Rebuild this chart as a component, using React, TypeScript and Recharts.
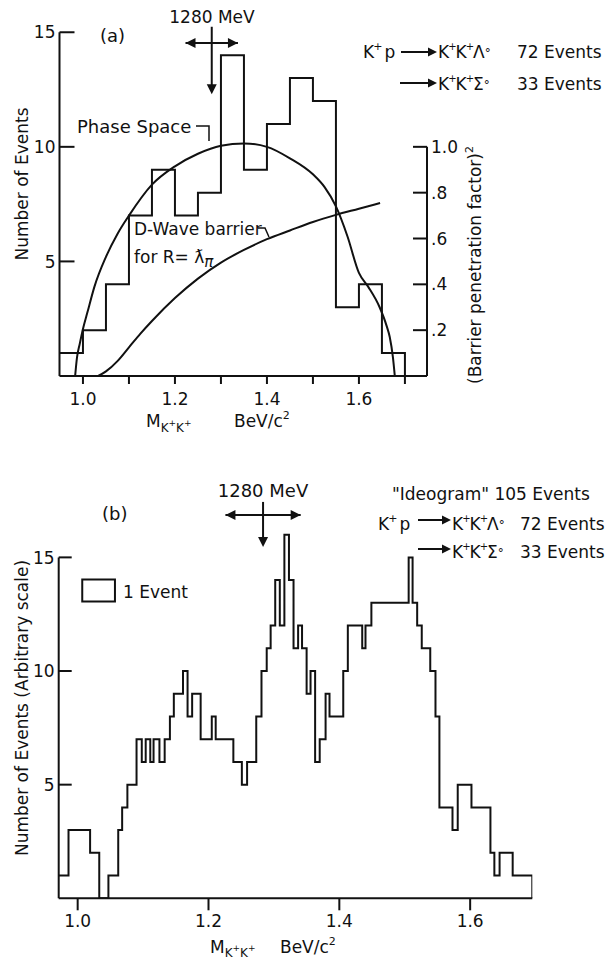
import React from 'react';
import { ComposedChart, Line, XAxis, YAxis, ReferenceLine, ReferenceDot, ReferenceArea } from 'recharts';

const FONT = '"DejaVu Sans", sans-serif';
const INK = '#111';

// ---------- Panel (a) data ----------
const binEdgesA = [0.95, 1.0, 1.05, 1.1, 1.15, 1.2, 1.25, 1.3, 1.35, 1.4, 1.45, 1.5, 1.55, 1.6, 1.65];
const countsA = [1, 2, 4, 7, 9, 7, 8, 14, 9, 11, 13, 12, 3, 4, 1];
const histEndA = 1.7;

const phaseSpaceX = [0.983, 0.987, 0.993, 1.0, 1.01, 1.025, 1.05, 1.075, 1.1, 1.15, 1.2, 1.25, 1.3, 1.35, 1.4, 1.45, 1.5, 1.525, 1.55, 1.575, 1.6, 1.62, 1.645, 1.66, 1.667, 1.674, 1.678];
const phaseSpaceY = [0, 0.8, 1.4, 2.05, 2.8, 3.9, 5.2, 6.2, 7.0, 8.35, 9.15, 9.7, 10.05, 10.15, 10.0, 9.5, 8.8, 8.25, 7.4, 6.1, 4.5, 3.9, 3.0, 2.2, 1.7, 0.8, 0];

const barrierX = [1.033, 1.05, 1.075, 1.1, 1.125, 1.15, 1.2, 1.25, 1.3, 1.35, 1.4, 1.45, 1.5, 1.55, 1.6, 1.646];
const barrierY = [0, 0.02, 0.065, 0.125, 0.185, 0.24, 0.34, 0.425, 0.495, 0.55, 0.597, 0.635, 0.672, 0.703, 0.73, 0.755];

const xDomainA = [0.949, 1.748];
const yDomainA = [0, 15.5];
const rDomainA = [0, 1.55];
const xTicksA = [1.0, 1.1, 1.2, 1.3, 1.4, 1.5, 1.6, 1.7];
const xLabelTicks = [1.0, 1.2, 1.4, 1.6];
const yTicksA = [5, 10, 15];
const yTicksRight = [0.2, 0.4, 0.6, 0.8, 1.0];
const leftAxisTop = 15;
const rightAxisTop = 1.0;

// 1280 MeV marker (a)
const massA = { x: 1.28, half: 0.057, yH: 14.53, yTop: 15.24, yTip: 12.3 };

// ---------- Panel (b) data ----------
const ideoEdges = [0.971, 0.986, 1.019, 1.033, 1.047, 1.062, 1.068, 1.076, 1.090, 1.098, 1.104, 1.111, 1.116, 1.125, 1.133, 1.141, 1.147, 1.161, 1.168, 1.175, 1.188, 1.205, 1.211, 1.238, 1.251, 1.259, 1.273, 1.281, 1.289, 1.295, 1.302, 1.309, 1.316, 1.323, 1.330, 1.337, 1.343, 1.350, 1.356, 1.363, 1.370, 1.379, 1.385, 1.406, 1.413, 1.435, 1.440, 1.449, 1.506, 1.512, 1.519, 1.526, 1.539, 1.547, 1.553, 1.573, 1.581, 1.602, 1.631, 1.637, 1.645, 1.665];
const ideoCounts = [1, 3, 2, 0, 1, 3, 4, 5, 7, 6, 7, 6, 7, 6, 7, 8, 9, 10, 8, 9, 7, 8, 7, 6, 5, 6, 8, 10, 11, 12, 14, 12, 16, 14, 11, 12, 11, 9, 10, 6, 7, 9, 8, 10, 12, 11, 12, 13, 15, 13, 12, 11, 10, 8, 4, 3, 5, 4, 2, 1, 2, 1];
const ideoEnd = 1.695;

const xDomainB = [0.971, 1.695];
const yDomainB = [0, 18];
const xTicksB = [1.0, 1.2, 1.4, 1.6];
const yTicksB = [5, 10, 15];
const massB = { x: 1.2834, half: 0.0575, yH: 16.86, yTop: 17.44, yTip: 15.46 };
const legendBox = { x1: 1.007, x2: 1.057, y1: 13.06, y2: 14.03 };

// ---------- helpers ----------
function stepData(edges: number[], counts: number[], end: number) {
  const pts = edges.map((x, i) => ({ x, y: counts[i] }));
  pts.push({ x: end, y: 0 });
  return pts;
}
function curveData(xs: number[], ys: number[]) {
  return xs.map((x, i) => ({ x, y: ys[i] }));
}

const histA = stepData(binEdgesA, countsA, histEndA);
const phaseA = curveData(phaseSpaceX, phaseSpaceY);
const barrA = curveData(barrierX, barrierY);
const histB = stepData(ideoEdges, ideoCounts, ideoEnd);

const txt = { fontFamily: FONT, fill: INK } as const;

const leftTick = (len: number) => (props: any) => {
  const { x, y, payload } = props;
  return (
    <g>
      <line x1={x} y1={y} x2={x + len} y2={y} stroke={INK} strokeWidth={2} />
      <text x={x - 4} y={y} dy="0.36em" textAnchor="end" fontSize={17} {...txt}>{payload.value}</text>
    </g>
  );
};
const rightTick = (len: number) => (props: any) => {
  const { x, y, payload } = props;
  const v = payload.value;
  const label = v >= 0.999 ? '1.0' : '.' + Math.round(v * 10);
  return (
    <g>
      <line x1={x - len} y1={y} x2={x} y2={y} stroke={INK} strokeWidth={2} />
      <text x={x + 4} y={y} dy="0.36em" textAnchor="start" fontSize={17} {...txt}>{label}</text>
    </g>
  );
};
const bottomTick = (len: number, labels: number[]) => (props: any) => {
  const { x, y, payload } = props;
  const v = payload.value;
  const show = labels.some((l) => Math.abs(l - v) < 1e-6);
  return (
    <g>
      <line x1={x} y1={y} x2={x} y2={y + len} stroke={INK} strokeWidth={2} />
      {show && (
        <text x={x} y={y + 29} textAnchor="middle" fontSize={17} {...txt}>{v.toFixed(1)}</text>
      )}
    </g>
  );
};
const head = (dir: 'down' | 'left' | 'right') => (p: any) => {
  const { cx, cy } = p;
  const L = 10, W = 5;
  let pts = '';
  if (dir === 'down') pts = `${cx},${cy} ${cx - W},${cy - L} ${cx + W},${cy - L}`;
  if (dir === 'left') pts = `${cx},${cy} ${cx + L},${cy - W} ${cx + L},${cy + W}`;
  if (dir === 'right') pts = `${cx},${cy} ${cx - L},${cy - W} ${cx - L},${cy + W}`;
  return <polygon points={pts} fill={INK} />;
};

function MassArrow({ m, yAxisId }: { m: typeof massA; yAxisId: string }) {
  return (
    <>
      <ReferenceLine yAxisId={yAxisId} ifOverflow="visible" stroke={INK} strokeWidth={2}
        segment={[{ x: m.x - m.half, y: m.yH }, { x: m.x + m.half, y: m.yH }]} />
      <ReferenceLine yAxisId={yAxisId} ifOverflow="visible" stroke={INK} strokeWidth={2}
        segment={[{ x: m.x, y: m.yTop }, { x: m.x, y: m.yTip + 0.3 }]} />
      <ReferenceDot yAxisId={yAxisId} ifOverflow="visible" x={m.x - m.half} y={m.yH} r={1} shape={head('left')} />
      <ReferenceDot yAxisId={yAxisId} ifOverflow="visible" x={m.x + m.half} y={m.yH} r={1} shape={head('right')} />
      <ReferenceDot yAxisId={yAxisId} ifOverflow="visible" x={m.x} y={m.yTip} r={1} shape={head('down')} />
    </>
  );
}

// text arrow (annotation)
function TextArrow({ x1, x2, y }: { x1: number; x2: number; y: number }) {
  return (
    <g>
      <line x1={x1} y1={y} x2={x2 - 6} y2={y} stroke={INK} strokeWidth={2} />
      <polygon points={`${x2},${y} ${x2 - 9},${y - 4.5} ${x2 - 9},${y + 4.5}`} fill={INK} />
    </g>
  );
}
function KKX({ x, y, last, size = 17 }: { x: number; y: number; last: string; size?: number }) {
  return (
    <text x={x} y={y} fontSize={size} {...txt}>
      K<tspan dy={-8} dx={-1} fontSize={10}>+</tspan>
      <tspan dy={8} dx={-1}>K</tspan><tspan dy={-8} dx={-1} fontSize={10}>+</tspan>
      <tspan dy={8} dx={-1}>{last}</tspan><tspan dy={-1} fontSize={12}>°</tspan>
    </text>
  );
}
function KP({ x, y, size = 17 }: { x: number; y: number; size?: number }) {
  return (
    <text x={x} y={y} fontSize={size} {...txt}>
      K<tspan dy={-8} dx={-1} fontSize={11}>+</tspan><tspan dy={8} dx={2}>p</tspan>
    </text>
  );
}
function MassLabel({ x, y, bx, sub }: { x: number; y: number; bx: number; sub: number }) {
  return (
    <g>
      <text x={x} y={y} fontSize={17} {...txt}>
        M<tspan dy={sub} fontSize={12}>K</tspan><tspan dy={-6} fontSize={9}>+</tspan>
        <tspan dy={6} fontSize={12}>K</tspan><tspan dy={-6} fontSize={9}>+</tspan>
      </text>
      <text x={bx} y={y} fontSize={17} {...txt}>
        BeV/c<tspan dy={-8} fontSize={11}>2</tspan>
      </text>
    </g>
  );
}

export default function App() {
  return (
    <div style={{ position: 'absolute', left: 0, top: 0, width: 613, height: 962, background: '#fff' }}>
      {/* Panel (a) */}
      <div style={{ position: 'absolute', left: 0, top: 0 }}>
        <ComposedChart width={613} height={430} margin={{ top: 20.8, right: 146, bottom: 24, left: 19.5 }}>
          <XAxis type="number" dataKey="x" domain={xDomainA} ticks={xTicksA} interval={0}
            allowDataOverflow tickSize={0} tickMargin={0} height={30}
            axisLine={{ stroke: INK, strokeWidth: 2 }} tickLine={false} tick={bottomTick(8, xLabelTicks)} />
          <YAxis yAxisId="left" type="number" domain={yDomainA} ticks={yTicksA} interval={0}
            allowDataOverflow width={40} tickSize={0} tickMargin={0}
            axisLine={false} tickLine={false} tick={leftTick(15)} />
          <YAxis yAxisId="right" orientation="right" type="number" domain={rDomainA} ticks={yTicksRight}
            interval={0} allowDataOverflow width={40} tickSize={0} tickMargin={0}
            axisLine={false} tickLine={false} tick={rightTick(14)} />
          <ReferenceLine yAxisId="left" ifOverflow="visible" stroke={INK} strokeWidth={2}
            segment={[{ x: xDomainA[0], y: 0 }, { x: xDomainA[0], y: leftAxisTop }]} />
          <ReferenceLine yAxisId="right" ifOverflow="visible" stroke={INK} strokeWidth={2}
            segment={[{ x: xDomainA[1], y: 0 }, { x: xDomainA[1], y: rightAxisTop }]} />
          <Line yAxisId="left" data={histA} dataKey="y" type="stepAfter" stroke={INK} strokeWidth={2}
            dot={false} isAnimationActive={false} />
          <Line yAxisId="left" data={phaseA} dataKey="y" type="monotone" stroke={INK} strokeWidth={2}
            dot={false} isAnimationActive={false} />
          <Line yAxisId="right" data={barrA} dataKey="y" type="monotone" stroke={INK} strokeWidth={2}
            dot={false} isAnimationActive={false} />
          {MassArrow({ m: massA, yAxisId: 'left' })}
        </ComposedChart>
      </div>

      {/* Panel (b) */}
      <div style={{ position: 'absolute', left: 0, top: 460 }}>
        <ComposedChart width={613} height={502} margin={{ top: 29.2, right: 80.7, bottom: 33.7, left: 18.7 }}>
          <XAxis type="number" dataKey="x" domain={xDomainB} ticks={xTicksB} interval={0}
            allowDataOverflow tickSize={0} tickMargin={0} height={30}
            axisLine={{ stroke: INK, strokeWidth: 2 }} tickLine={false} tick={bottomTick(12, xTicksB)} />
          <YAxis yAxisId="left" type="number" domain={yDomainB} ticks={yTicksB} interval={0}
            allowDataOverflow width={40} tickSize={0} tickMargin={0}
            axisLine={false} tickLine={false} tick={leftTick(13)} />
          <ReferenceLine yAxisId="left" ifOverflow="visible" stroke={INK} strokeWidth={2}
            segment={[{ x: xDomainB[0], y: 0 }, { x: xDomainB[0], y: 15 }]} />
          <ReferenceArea yAxisId="left" x1={legendBox.x1} x2={legendBox.x2} y1={legendBox.y1} y2={legendBox.y2}
            fill="none" fillOpacity={0} stroke={INK} strokeWidth={2} ifOverflow="visible" />
          <Line yAxisId="left" data={histB} dataKey="y" type="stepAfter" stroke={INK} strokeWidth={2}
            dot={false} isAnimationActive={false} />
          {MassArrow({ m: massB, yAxisId: 'left' })}
        </ComposedChart>
      </div>

      {/* Annotation text overlay */}
      <svg width={613} height={962} style={{ position: 'absolute', left: 0, top: 0, pointerEvents: 'none' }}>
        {/* panel a */}
        <text x={100} y={42} fontSize={18} {...txt}>(a)</text>
        <text x={212} y={23} fontSize={17} textAnchor="middle" {...txt}>1280 MeV</text>
        <text x={77} y={133} fontSize={18} {...txt}>Phase Space</text>
        <polyline points="196,126 209,126 209,141" fill="none" stroke={INK} strokeWidth={1.5} />
        <KP x={363} y={58} />
        <TextArrow x1={401} x2={437} y={52} />
        <KKX x={438} y={58} last="Λ" />
        <text x={517} y={58} fontSize={17} {...txt}>72 Events</text>
        <TextArrow x1={400} x2={437} y={83} />
        <KKX x={438} y={90} last="Σ" />
        <text x={517} y={90} fontSize={17} {...txt}>33 Events</text>
        <text x={134} y={235} fontSize={17} {...txt}>D-Wave barrier</text>
        <polyline points="258,228 265,228 269,237" fill="none" stroke={INK} strokeWidth={1.5} />
        <text x={134} y={263} fontSize={17} {...txt}>
          for R= ƛ<tspan dy={4} fontSize={15} fontStyle="italic">π</tspan>
        </text>
        <text x={28} y={184} fontSize={17} textAnchor="middle" transform="rotate(-90 28 184)" {...txt}>Number of Events</text>
        <text x={481} y={265} fontSize={17} textAnchor="middle" transform="rotate(-90 481 265)" {...txt}>
          (Barrier penetration factor)<tspan dy={-8} fontSize={11}>2</tspan>
        </text>
        <MassLabel x={146} y={427} bx={234} sub={5} />

        {/* panel b */}
        <text x={102} y={520} fontSize={18} {...txt}>(b)</text>
        <text x={263} y={497} fontSize={18} textAnchor="middle" {...txt}>1280 MeV</text>
        <text x={392} y={500} fontSize={17} {...txt}>"Ideogram" 105 Events</text>
        <KP x={378} y={530} />
        <TextArrow x1={418} x2={451} y={520} />
        <KKX x={452} y={530} last="Λ" />
        <text x={520} y={530} fontSize={17} {...txt}>72 Events</text>
        <TextArrow x1={418} x2={451} y={549} />
        <KKX x={452} y={558} last="Σ" />
        <text x={520} y={558} fontSize={17} {...txt}>33 Events</text>
        <text x={123} y={598} fontSize={17} {...txt}>1 Event</text>
        <text x={28} y={708} fontSize={17} textAnchor="middle" transform="rotate(-90 28 708)" {...txt}>Number of Events (Arbitrary scale)</text>
        <MassLabel x={210} y={953} bx={280} sub={4} />
      </svg>
    </div>
  );
}
